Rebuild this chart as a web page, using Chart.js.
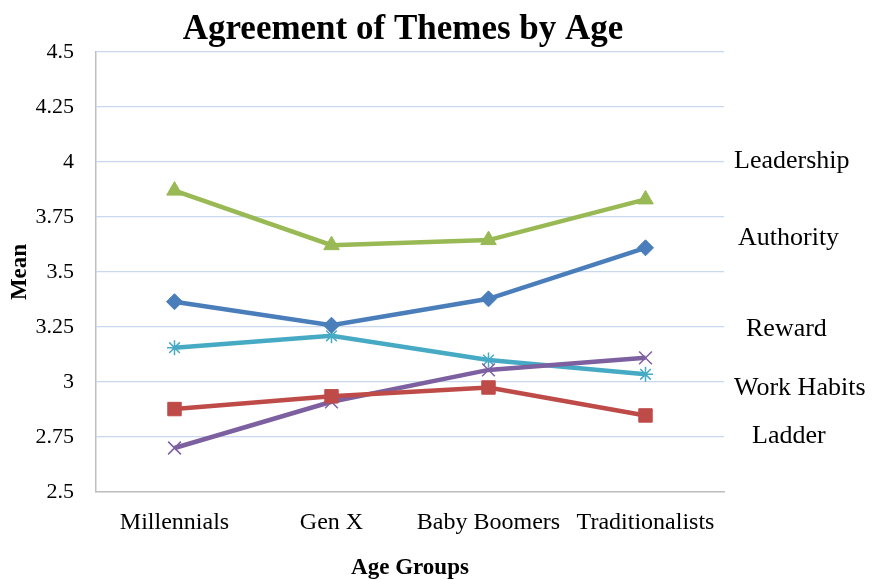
<!DOCTYPE html>
<html>
<head>
<meta charset="utf-8">
<script src="https://cdn.jsdelivr.net/npm/chart.js@4"></script>
<style>
  html, body { margin: 0; padding: 0; background: #ffffff; }
  #wrap { width: 881px; height: 580px; position: relative; }
</style>
</head>
<body>
<div id="wrap"><canvas id="c" width="881" height="580"></canvas></div>
<script>
// ---- data ----
const categories = ['Millennials', 'Gen X', 'Baby Boomers', 'Traditionalists'];
const authority  = [3.365, 3.258, 3.378, 3.610];
const ladder     = [2.877, 2.935, 2.975, 2.848];
const leadership = [3.870, 3.622, 3.645, 3.830];
const reward     = [2.700, 2.910, 3.055, 3.110];
const workHabits = [3.156, 3.210, 3.100, 3.035];
const seriesNames = ['Leadership', 'Authority', 'Reward', 'Work Habits', 'Ladder'];
const yTicks = [2.5, 2.75, 3, 3.25, 3.5, 3.75, 4, 4.25, 4.5];
const chartTitle = 'Agreement of Themes by Age';
const xTitle = 'Age Groups';
const yTitle = 'Mean';

const SERIF = "'Liberation Serif', 'Times New Roman', serif";

// plugin: chart title + series name labels on the right
const annotate = {
  id: 'annotate',
  afterDraw(chart) {
    const ctx = chart.ctx;
    const a = chart.chartArea;
    ctx.save();
    ctx.fillStyle = '#000';
    ctx.textAlign = 'center';
    ctx.textBaseline = 'alphabetic';
    ctx.font = "bold 35px " + SERIF;
    ctx.fillText(chartTitle, (a.left + a.right) / 2 - 7, 39);

    ctx.font = "26px " + SERIF;
    ctx.textAlign = 'left';
    const pos = [[734, 168], [738, 245], [746, 336], [734, 395], [752, 443]];
    seriesNames.forEach((n, i) => ctx.fillText(n, pos[i][0], pos[i][1]));
    ctx.restore();
  }
};

const lineDs = (label, data, color, style, radius, bw) => ({
  label, data,
  borderColor: color,
  backgroundColor: color,
  borderWidth: 4.5,
  pointStyle: style,
  pointRadius: radius,
  pointHoverRadius: radius,
  pointBorderWidth: bw,
  pointBorderColor: color,
  pointBackgroundColor: color,
  tension: 0,
  fill: false
});

new Chart(document.getElementById('c'), {
  type: 'line',
  data: {
    labels: categories,
    datasets: [
      lineDs('Authority', authority, '#4A7EBB', 'rectRot', 8, 1),
      lineDs('Ladder', ladder, '#BE4B48', 'rect', 9.5, 1),
      lineDs('Leadership', leadership, '#98B954', 'triangle', 9, 1),
      lineDs('Reward', reward, '#7D60A0', 'crossRot', 9, 1.5),
      lineDs('Work Habits', workHabits, '#46AAC5', 'star', 7.5, 1.5)
    ]
  },
  options: {
    responsive: false,
    animation: false,
    layout: { padding: { top: 52, right: 157, left: 0, bottom: 0 } },
    plugins: {
      legend: { display: false },
      title: { display: false },
      tooltip: { enabled: false }
    },
    scales: {
      x: {
        offset: true,
        grid: { display: false },
        border: { display: true, color: '#BFBFBF', width: 1.5 },
        ticks: {
          color: '#000',
          font: { family: SERIF, size: 24 },
          maxRotation: 0, minRotation: 0, autoSkip: false,
          padding: 8
        },
        title: {
          display: true, text: xTitle, color: '#000',
          font: { family: SERIF, size: 23, weight: 'bold', lineHeight: 1 },
          padding: { top: 0, bottom: 0 }
        },
        afterFit(scale) { scale.height = 88; }
      },
      y: {
        min: 2.5, max: 4.5,
        afterBuildTicks(scale) { scale.ticks = yTicks.map(v => ({ value: v })); },
        grid: { color: '#C8D8EE', lineWidth: 1.2, drawTicks: false },
        border: { display: true, color: '#BFBFBF', width: 1.5 },
        ticks: {
          color: '#000',
          font: { family: SERIF, size: 22 },
          padding: 22,
          callback: (v) => String(v)
        },
        title: {
          display: true, text: yTitle, color: '#000',
          font: { family: SERIF, size: 23, weight: 'bold', lineHeight: 1.2 },
          padding: { top: 6, bottom: 0 }
        },
        afterFit(scale) { scale.width = 96; }
      }
    }
  },
  plugins: [annotate]
});
</script>
</body>
</html>
